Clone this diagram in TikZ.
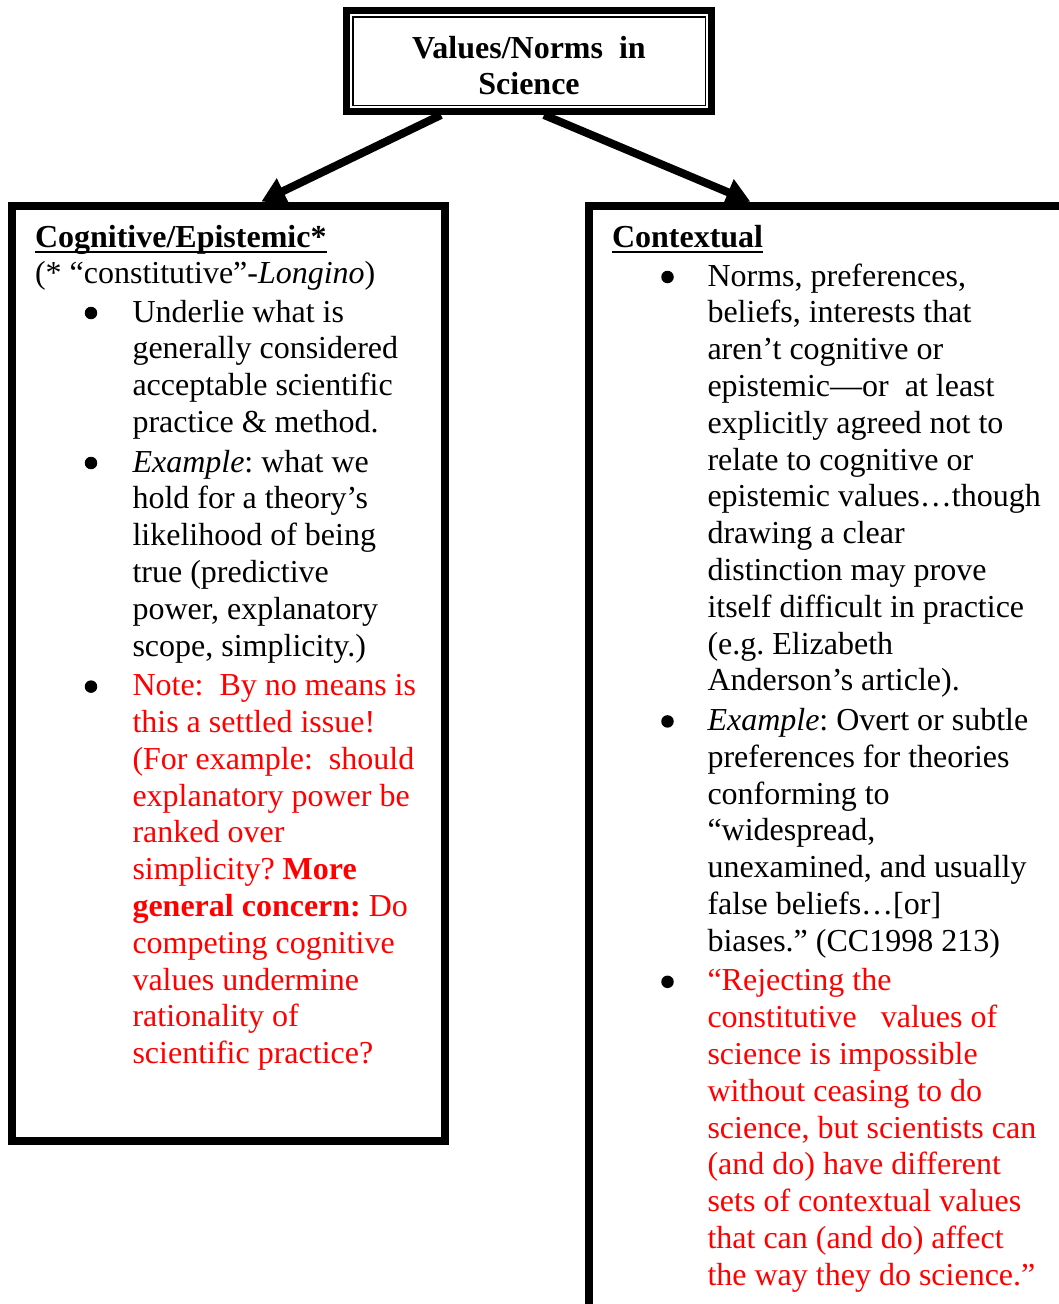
\documentclass[tikz,border=0pt]{standalone}
\usepackage{fontspec}
\setmainfont{Liberation Serif}
\usetikzlibrary{arrows.meta}
\definecolor{notered}{RGB}{255,0,0}
\tikzset{
  frame/.style={draw=black, line width=8pt, inner sep=0pt, fill=none},
  txt/.style={anchor=base west, inner sep=0pt, outer sep=0pt, font=\fontsize{32}{36.8}\selectfont},
  ctxt/.style={anchor=base, inner sep=0pt, outer sep=0pt, font=\fontsize{32}{36.8}\selectfont\bfseries},
  redtxt/.style={txt, text=notered},
  bul/.style={circle, fill=black, inner sep=0pt, minimum size=12.5pt},
  conn/.style={line width=8pt, -{Triangle[length=24pt,width=27pt]}, shorten >=1pt},
}
\begin{document}
\frenchspacing
\begin{tikzpicture}[x=1pt,y=-1pt]
\useasboundingbox (0,0) rectangle (1059,1304);
\clip (0,0) rectangle (1059,1304);
\fill[white] (0,0) rectangle (1059,1304);

% top box (anchors lie on the outer edge of the thick line)
\node[draw=black, line width=7.4pt, inner sep=0pt, minimum width=364.6pt, minimum height=100.6pt] (top) at (529,61) {};
\draw[line width=1.4pt] ([shift={(9.8,9.8)}]top.north west) rectangle ([shift={(-9.8,-9.8)}]top.south east);
\node[ctxt] (toptext) at (529,58) {\begin{tabular}[t]{@{}c@{}}Values/Norms\ \ in\\Science\end{tabular}};

% boxes
\node[frame, minimum width=433pt, minimum height=935pt] (cog) at (228.5,673.5) {};
\node[frame, minimum width=531.5pt, minimum height=1154pt] (ctx) at (854.25,783) {};

% connectors
\draw[conn] ([xshift=-88pt]top.south) -- ([xshift=32pt]cog.north);
\draw[conn] ([xshift=15pt]top.south) -- ([xshift=-103pt]ctx.north);

% left box text
\node[txt] (cogh) at (35,247) {\textbf{Cognitive/Epistemic*}};
\draw[line width=2.3pt] ([yshift=-5pt]cogh.base west) -- ([yshift=-5pt]cogh.base east);
\node[txt] (cogsub) at (35,283) {(* “constitutive”-\textit{Longino})};

\node[bul] (lb1) at (91,313) {};
\node[txt] (lp1) at (132.5,322) {\begin{tabular}[t]{@{}l@{}}Underlie what is\\generally considered\\acceptable scientific\\practice \& method.\end{tabular}};
\node[bul] (lb2) at (91,463) {};
\node[txt] (lp2) at (132.5,472) {\begin{tabular}[t]{@{}l@{}}\textit{Example}: what we\\hold for a theory’s\\likelihood of being\\true (predictive\\power, explanatory\\scope, simplicity.)\end{tabular}};
\node[bul] (lb3) at (91,686.6) {};
\node[redtxt] (lp3) at (132.5,695.6) {\begin{tabular}[t]{@{}l@{}}Note:\ \ By no means is\\this a settled issue!\\(For example:\ \ should\\explanatory power be\\ranked over\\simplicity? \textbf{More}\\\textbf{general concern:} Do\\competing cognitive\\values undermine\\rationality of\\scientific practice?\end{tabular}};

% right box text
\node[txt] (ctxh) at (612,247) {\textbf{Contextual}};
\draw[line width=2.3pt] ([yshift=-5pt]ctxh.base west) -- ([yshift=-5pt]ctxh.base east);

\node[bul] (rb1) at (667.5,277) {};
\node[txt] (rp1) at (707.5,286) {\begin{tabular}[t]{@{}l@{}}Norms, preferences,\\beliefs, interests that\\aren’t cognitive or\\epistemic—or\ \ at least\\explicitly agreed not to\\relate to cognitive or\\epistemic values…though\\drawing a clear\\distinction may prove\\itself difficult in practice\\(e.g. Elizabeth\\Anderson’s article).\end{tabular}};
\node[bul] (rb2) at (667.5,721.4) {};
\node[txt] (rp2) at (707.5,730.4) {\begin{tabular}[t]{@{}l@{}}\textit{Example}: Overt or subtle\\preferences for theories\\conforming to\\“widespread,\\unexamined, and usually\\false beliefs…[or]\\biases.” (CC1998 213)\end{tabular}};
\node[bul] (rb3) at (667.5,981.8) {};
\node[redtxt] (rp3) at (707.5,990.8) {\begin{tabular}[t]{@{}l@{}}“Rejecting the\\constitutive\ \ \ values of\\science is impossible\\without ceasing to do\\science, but scientists can\\(and do) have different\\sets of contextual values\\that can (and do) affect\\the way they do science.”\end{tabular}};
\end{tikzpicture}
\end{document}
